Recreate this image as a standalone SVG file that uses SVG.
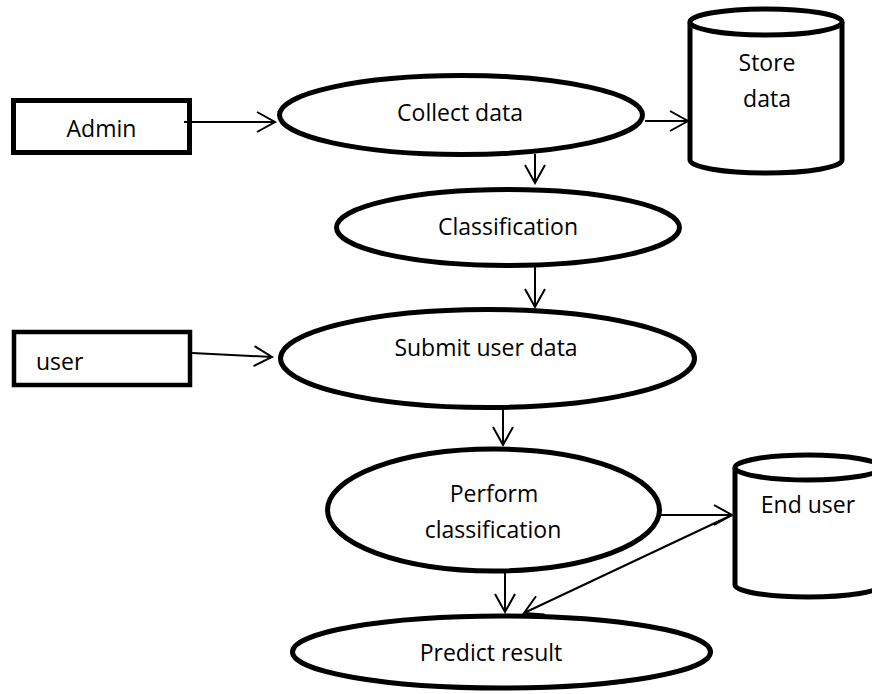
<svg xmlns="http://www.w3.org/2000/svg" width="872" height="694" viewBox="0 0 872 694">
<style>
  .shape { fill: #fff; stroke: #000; stroke-width: 5; }
  .lbl { font-family: "Open Sans", "Noto Sans", "Liberation Sans", sans-serif; font-size: 23px; fill: #000; }
  .mid { text-anchor: middle; }
  .conn { stroke: #000; stroke-width: 2; fill: none; marker-end: url(#arr); }
</style>
<defs>
  <marker id="arr" markerUnits="userSpaceOnUse" markerWidth="24" markerHeight="26" refX="19" refY="11" orient="auto">
    <path d="M1,1 L19,11 L1,21" fill="none" stroke="#000" stroke-width="2"/>
  </marker>
</defs>
<rect width="872" height="694" fill="#fff"/>

<g id="admin">
  <rect class="shape" x="13.5" y="100.5" width="176" height="52"/>
  <text class="lbl mid" x="101.5" y="137">Admin</text>
</g>
<g id="collect-data">
  <ellipse class="shape" cx="461" cy="115" rx="181.5" ry="39.5"/>
  <text class="lbl mid" x="460" y="121">Collect data</text>
</g>
<g id="store-data">
  <path class="shape" d="M690,22 L690,160 A76,13 0 0 0 842,160 L842,22"/>
  <ellipse class="shape" cx="766" cy="22" rx="76" ry="13"/>
  <text class="lbl mid" x="767" y="71">Store</text>
  <text class="lbl mid" x="767" y="107">data</text>
</g>
<g id="classification">
  <ellipse class="shape" cx="508" cy="227.5" rx="171.5" ry="38"/>
  <text class="lbl mid" x="508" y="235">Classification</text>
</g>
<g id="user">
  <rect class="shape" style="stroke-width:4.5" x="14" y="332" width="176" height="53"/>
  <text class="lbl" x="36" y="370">user</text>
</g>
<g id="submit-user-data">
  <ellipse class="shape" cx="487.5" cy="358.5" rx="207" ry="49"/>
  <text class="lbl mid" x="486" y="356">Submit user data</text>
</g>
<g id="perform-classification">
  <ellipse class="shape" cx="493.5" cy="510" rx="166" ry="61"/>
  <text class="lbl mid" x="494" y="502">Perform</text>
  <text class="lbl mid" x="493" y="538">classification</text>
</g>
<g id="end-user">
  <path class="shape" d="M735,467.5 L735,585 A73,12 0 0 0 881,585 L881,467.5"/>
  <ellipse class="shape" cx="808" cy="467.5" rx="73" ry="12.5"/>
  <text class="lbl mid" x="808" y="513">End user</text>
</g>
<g id="predict-result">
  <ellipse class="shape" cx="501.5" cy="652" rx="209" ry="36"/>
  <text class="lbl mid" x="491" y="661">Predict result</text>
</g>

<g id="connectors">
  <line class="conn" x1="184" y1="122" x2="275" y2="122"/>
  <line class="conn" x1="645" y1="121" x2="688" y2="121"/>
  <line class="conn" x1="535" y1="154" x2="535" y2="183"/>
  <line class="conn" x1="535" y1="267" x2="535" y2="307"/>
  <line class="conn" x1="192" y1="353" x2="272" y2="357"/>
  <line class="conn" x1="503" y1="408" x2="503" y2="445"/>
  <line class="conn" x1="661" y1="515" x2="732" y2="515"/>
  <line class="conn" x1="505" y1="572" x2="505" y2="612"/>
  <line class="conn" x1="732" y1="515" x2="524" y2="613"/>
</g>
</svg>
